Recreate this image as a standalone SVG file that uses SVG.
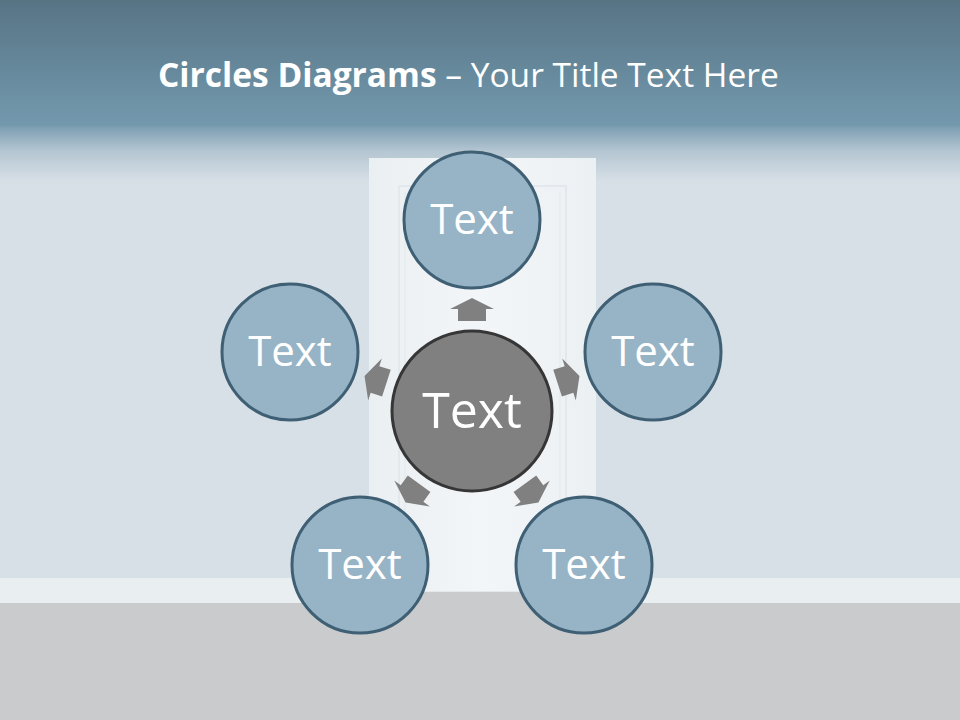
<svg xmlns="http://www.w3.org/2000/svg" width="960" height="720" viewBox="0 0 960 720">
<defs>
<linearGradient id="hdr" x1="0" y1="0" x2="0" y2="1">
<stop offset="0" stop-color="#577485"/>
<stop offset="1" stop-color="#7399ae"/>
</linearGradient>
<linearGradient id="fade" x1="0" y1="0" x2="0" y2="1">
<stop offset="0" stop-color="#7b9db1"/>
<stop offset="0.45" stop-color="#b4c6d2"/>
<stop offset="1" stop-color="#d8e0e7"/>
</linearGradient>
<linearGradient id="door" x1="0" y1="0" x2="1" y2="0">
<stop offset="0" stop-color="#eaeff2"/>
<stop offset="0.5" stop-color="#f3f6f8"/>
<stop offset="1" stop-color="#ebf0f3"/>
</linearGradient>
<polygon id="arr" points="0,-12 22,-1 14,-1 14,11 -14,11 -14,-1 -22,-1"/>
</defs>
<style>
.outer{fill:#97b4c6;stroke:#3f5f74;stroke-width:3}
.center{fill:#808080;stroke:#363636;stroke-width:3}
.lbl{font-family:"Open Sans","Noto Sans",sans-serif;fill:#ffffff;text-anchor:middle}
.arrow{fill:#808080}
</style>
<!-- background -->
<rect x="0" y="0" width="960" height="720" fill="#d8e0e7"/>
<rect x="0" y="0" width="960" height="126" fill="url(#hdr)"/>
<rect x="0" y="126" width="960" height="56" fill="url(#fade)"/>
<!-- door -->
<rect x="369" y="158" width="227" height="434" fill="url(#door)"/>
<rect x="399" y="186" width="167" height="406" fill="none" stroke="#e2e8ec" stroke-width="2"/>
<line x1="405" y1="192" x2="405" y2="592" stroke="#e6ebee" stroke-width="1.5"/>
<line x1="560" y1="192" x2="560" y2="592" stroke="#e6ebee" stroke-width="1.5"/>
<!-- baseboard and floor -->
<rect x="0" y="578" width="369" height="25" fill="#e9eef0"/>
<rect x="596" y="578" width="364" height="25" fill="#e9eef0"/>
<rect x="0" y="603" width="960" height="117" fill="#c9cbcd"/>
<rect x="369" y="592" width="227" height="11" fill="#c9cbcd"/>
<!-- title -->
<text x="158" y="87" font-family="'Open Sans','Noto Sans',sans-serif" font-size="33.5" fill="#ffffff"><tspan font-weight="bold">Circles Diagrams</tspan> – Your Title Text Here</text>
<!-- connectors -->
<g id="connectors" class="arrow">
<use href="#arr" transform="translate(472,411) rotate(0) translate(0,-101)"/>
<use href="#arr" transform="translate(472,411) rotate(72) translate(0,-101)"/>
<use href="#arr" transform="translate(472,411) rotate(144) translate(0,-101)"/>
<use href="#arr" transform="translate(472,411) rotate(216) translate(0,-101)"/>
<use href="#arr" transform="translate(472,411) rotate(288) translate(0,-101)"/>
</g>
<!-- nodes -->
<g id="node-center">
<circle class="center" cx="472" cy="411" r="80"/>
<text class="lbl" x="472" y="428" font-size="50">Text</text>
</g>
<g id="node-top">
<circle class="outer" cx="472" cy="220" r="68"/>
<text class="lbl" x="472" y="234" font-size="42">Text</text>
</g>
<g id="node-right">
<circle class="outer" cx="653" cy="352" r="68"/>
<text class="lbl" x="653" y="366" font-size="42">Text</text>
</g>
<g id="node-bottom-right">
<circle class="outer" cx="584" cy="565" r="68"/>
<text class="lbl" x="584" y="579" font-size="42">Text</text>
</g>
<g id="node-bottom-left">
<circle class="outer" cx="360" cy="565" r="68"/>
<text class="lbl" x="360" y="579" font-size="42">Text</text>
</g>
<g id="node-left">
<circle class="outer" cx="290" cy="352" r="68"/>
<text class="lbl" x="290" y="366" font-size="42">Text</text>
</g>
</svg>
